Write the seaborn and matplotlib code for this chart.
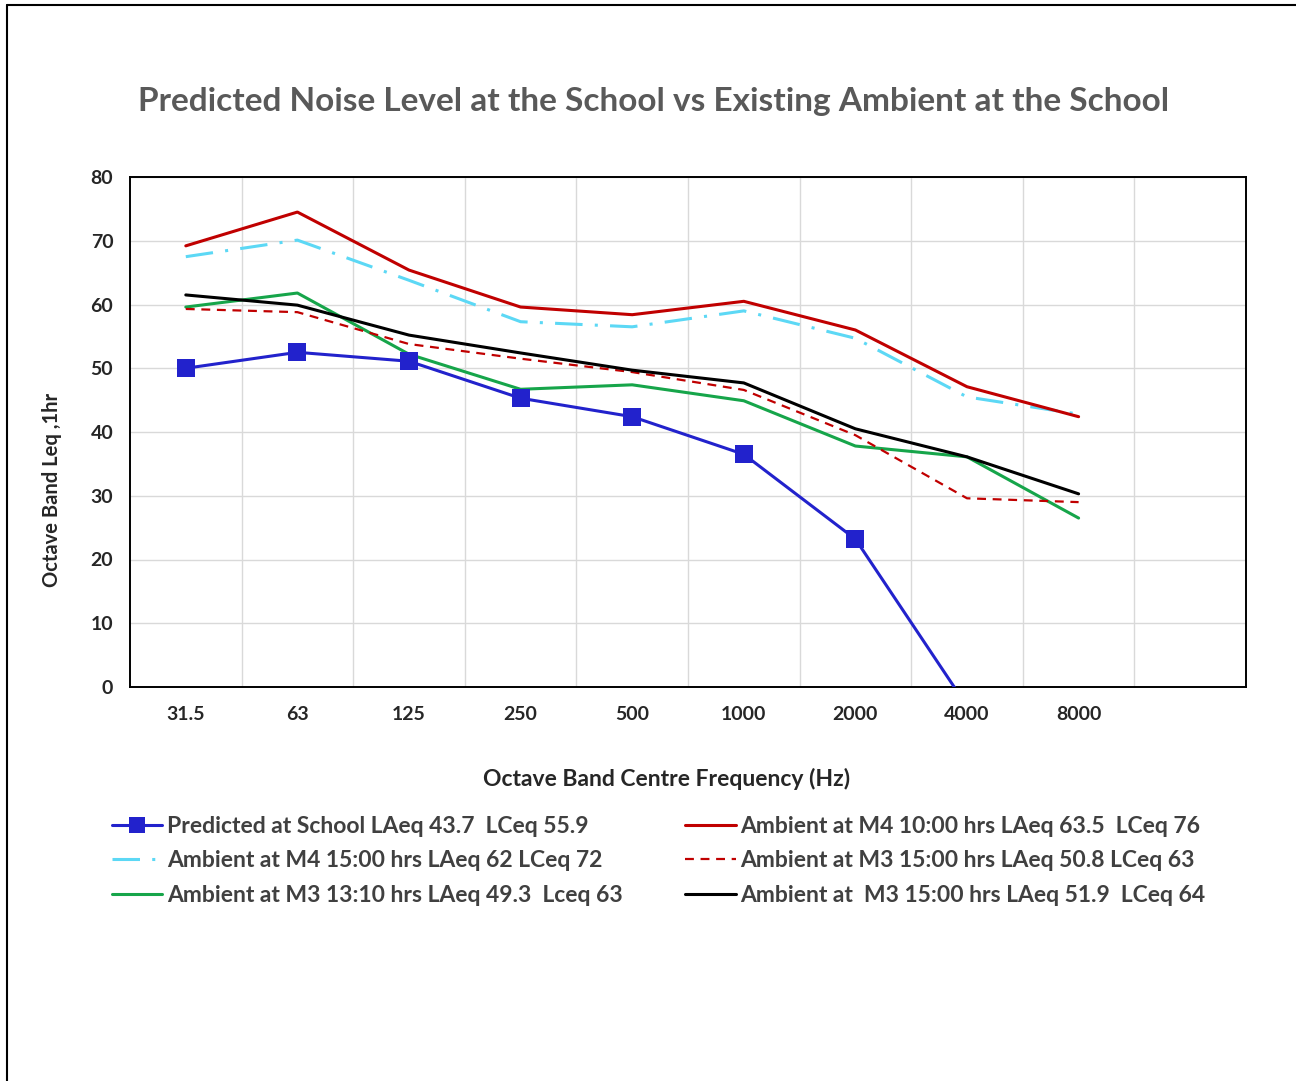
import matplotlib
matplotlib.use("Agg")
import matplotlib.pyplot as plt
from matplotlib.lines import Line2D
import numpy as np
import pandas as pd
import seaborn as sns

# octave band centre frequencies (last slot on the axis is empty)
freqs = ["31.5", "63", "125", "250", "500", "1000", "2000", "4000", "8000"]

predicted = [50.0, 52.5, 51.1, 45.3, 42.4, 36.5, 23.2, -3.0, np.nan]
m4_1000 = [69.2, 74.5, 65.4, 59.6, 58.4, 60.5, 56.0, 47.1, 42.4]
m4_1500 = [67.5, 70.1, 63.8, 57.3, 56.5, 59.0, 54.7, 45.5, 42.8]
m3_1310 = [59.6, 61.8, 52.2, 46.7, 47.4, 44.9, 37.8, 36.1, 26.5]
m3_1500a = [59.3, 58.8, 53.8, 51.5, 49.4, 46.6, 39.5, 29.6, 29.0]
m3_1500b = [61.5, 59.9, 55.2, 52.4, 49.7, 47.7, 40.5, 36.1, 30.3]

labels = [
    "Predicted at School LAeq 43.7  LCeq 55.9",
    "Ambient at M4 15:00 hrs LAeq 62 LCeq 72",
    "Ambient at M3 13:10 hrs LAeq 49.3  Lceq 63",
    "Ambient at M4 10:00 hrs LAeq 63.5  LCeq 76",
    "Ambient at M3 15:00 hrs LAeq 50.8 LCeq 63",
    "Ambient at  M3 15:00 hrs LAeq 51.9  LCeq 64",
]

sns.set_style("white")
plt.rcParams["font.family"] = ["Lato", "DejaVu Sans"]
W = "bold"

fig = plt.figure(figsize=(12.96, 10.81), dpi=100)
ax = fig.add_axes([130 / 1296, 1 - 687 / 1081, 1116 / 1296, 510 / 1081])

x = np.arange(len(freqs))
df = pd.DataFrame({"x": x, "pred": predicted, "m4a": m4_1500, "m3a": m3_1310,
                   "m4b": m4_1000, "m3b": m3_1500a, "m3c": m3_1500b})

handles = []
styles = [
    ("pred", "#2222CC", "-", "s", 6),
    ("m4a", "#5CD8F5", (0, (9, 4, 1, 4)), None, 3),
    ("m3a", "#16A54A", "-", None, 2),
    ("m4b", "#C00000", "-", None, 4),
    ("m3b", "#C00000", (0, (4, 3)), None, 3),
    ("m3c", "#000000", "-", None, 3),
]
for (col, color, ls, mk, z), lab in zip(styles, labels):
    lw = 2.2 if col != "m3b" else 1.6
    sns.lineplot(data=df, x="x", y=col, ax=ax, color=color, linestyle=ls,
                 linewidth=lw, marker=mk, markersize=13 if mk else 0,
                 markeredgewidth=0, zorder=z, legend=False)
    handles.append(Line2D([0], [0], color=color, linestyle=ls, linewidth=lw,
                          marker=mk, markersize=11 if mk else 0,
                          markeredgewidth=0))

ax.set_xlim(-0.5, len(freqs) + 0.5)
ax.set_ylim(0, 80)
ax.set_xticks(x)
ax.set_xticklabels(freqs)
ax.set_xticks(np.arange(0.5, len(freqs) + 0.5, 1), minor=True)
ax.set_yticks(np.arange(0, 81, 10))
ax.grid(False)
ax.grid(True, which="minor", axis="x", color="#D9D9D9", linewidth=1)
ax.grid(True, which="major", axis="y", color="#D9D9D9", linewidth=1)
ax.set_axisbelow(True)
ax.tick_params(axis="both", which="both", length=0, labelsize=14, pad=14)
ax.tick_params(axis="y", pad=12)
for t in ax.get_xticklabels() + ax.get_yticklabels():
    t.set_fontweight(W)
for s in ax.spines.values():
    s.set_color("black")
    s.set_linewidth(1.4)

ax.set_xlabel("Octave Band Centre Frequency (Hz)", fontsize=16.5,
              fontweight=W)
ax.xaxis.set_label_coords((667 - 130) / 1116, -(768 - 687) / 510)
ax.set_ylabel("Octave Band Leq ,1hr", fontsize=14.5, fontweight=W)
ax.yaxis.set_label_coords(-(130 - 62) / 1116, (687 - 490) / 510)

fig.text(654 / 1296, 1 - 102 / 1081,
         "Predicted Noise Level at the School vs Existing Ambient at the School",
         ha="center", va="center", fontsize=24, fontweight=W,
         color="#595959")

leg = fig.legend(handles, labels, ncol=2, loc="upper left",
                 bbox_to_anchor=(91 / 1296, 1 - 795 / 1081), frameon=False,
                 fontsize=16.5, handlelength=2.2, handletextpad=0.2,
                 columnspacing=2.75, labelspacing=0.6)
for t in leg.get_texts():
    t.set_fontweight(W)
    t.set_color("#404040")

# outer chart frame
fig.add_artist(Line2D([7 / 1296, 1], [1 - 5 / 1081, 1 - 5 / 1081],
                      transform=fig.transFigure, color="black", linewidth=1.5))
fig.add_artist(Line2D([7 / 1296, 7 / 1296], [0, 1 - 5 / 1081],
                      transform=fig.transFigure, color="black", linewidth=1.5))

fig.savefig("out.png", dpi=100)
